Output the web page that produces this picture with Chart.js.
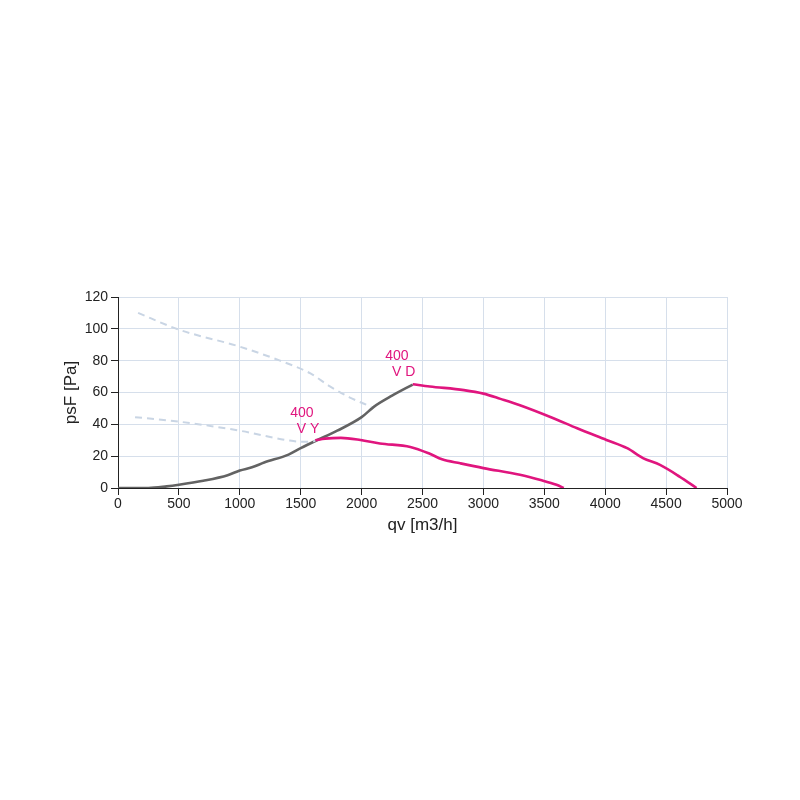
<!DOCTYPE html>
<html>
<head>
<meta charset="utf-8">
<script src="https://cdn.jsdelivr.net/npm/chart.js@4/dist/chart.umd.min.js"></script>
<style>
  html, body { margin: 0; padding: 0; background: #fff; }
  #wrap { width: 800px; height: 800px; }
</style>
</head>
<body>
<div id="wrap"><canvas id="fanChart" width="800" height="800"></canvas></div>
<script>
// curve points: [qv m3/h, psF Pa]
const systemCurve = [
  [0, 0], [250, 0], [400, 1], [500, 2], [700, 4.5], [900, 8], [1000, 11],
  [1100, 13], [1200, 16], [1400, 21], [1500, 25], [1620, 29.5], [1800, 36],
  [2000, 44.5], [2100, 51], [2250, 58], [2420, 65]
];
const vyCurve = [
  [1620, 30], [1700, 31], [1830, 31.5], [1990, 30.2], [2150, 28], [2400, 25.8],
  [2560, 21.5], [2660, 18], [2810, 15.5], [3000, 12.5], [3300, 8.3],
  [3470, 5], [3600, 2], [3660, 0]
];
const vdCurve = [
  [2420, 65.2], [2560, 63.8], [2840, 61.5], [3000, 59.3], [3140, 56],
  [3300, 52], [3570, 44], [3770, 37.5], [4010, 30.2], [4180, 25],
  [4310, 18.8], [4450, 14.5], [4610, 7.2], [4750, 0]
];
const vyDashed = [
  [140, 44.5], [500, 41.7], [1000, 36], [1410, 29.8], [1520, 29], [1620, 29.5]
];
const vdDashed = [
  [165, 110], [500, 99.5], [1000, 88.8], [1330, 80], [1580, 72], [1740, 63.8],
  [1900, 57], [2080, 51]
];

const curveLabels = ["400", "V Y", "400", "V D"];
const curveLabelPos = [[1510, 47], [1560, 37], [2290, 83], [2345, 73]];

const xTicks = { min: 0, max: 5000, step: 500 };
const yTicks = { min: 0, max: 120, step: 20 };

const PINK = "#e0157e";
const FONT = "'Liberation Sans', Arial, sans-serif";
const toXY = (arr) => arr.map((p) => ({ x: p[0], y: p[1] }));

const labelPlugin = {
  id: "curveLabels",
  afterDatasetsDraw: (chart) => {
    const ctx = chart.ctx;
    const xs = chart.scales.x;
    const ys = chart.scales.y;
    ctx.save();
    ctx.fillStyle = PINK;
    ctx.font = "14px " + FONT;
    ctx.textAlign = "center";
    ctx.textBaseline = "middle";
    curveLabels.forEach((txt, i) => {
      const p = curveLabelPos[i];
      ctx.fillText(txt, xs.getPixelForValue(p[0]), ys.getPixelForValue(p[1]));
    });
    ctx.restore();
  },
};

const lineDs = (data, color, width, dash) => ({
  data: toXY(data),
  showLine: true,
  borderColor: color,
  backgroundColor: color,
  borderWidth: width,
  borderDash: dash || [],
  pointRadius: 0,
  cubicInterpolationMode: "monotone",
  fill: false,
});

new Chart(document.getElementById("fanChart").getContext("2d"), {
  type: "scatter",
  data: {
    datasets: [
      lineDs(vdDashed, "#c9d5e4", 2, [7, 5]),
      lineDs(vyDashed, "#c9d5e4", 2, [7, 5]),
      lineDs(vyCurve, PINK, 2.6),
      lineDs(vdCurve, PINK, 2.6),
      lineDs(systemCurve, "#636363", 2.6),
    ],
  },
  options: {
    responsive: false,
    animation: false,
    layout: { padding: { left: 57, right: 73, top: 297, bottom: 260 } },
    plugins: { legend: { display: false }, tooltip: { enabled: false } },
    scales: {
      x: {
        type: "linear",
        min: xTicks.min,
        max: xTicks.max,
        ticks: {
          stepSize: xTicks.step,
          color: "#222",
          font: { size: 14, family: FONT },
          padding: 1,
          maxRotation: 0,
          callback: (v) => String(v),
        },
        grid: { color: "#d6dfeb", tickColor: "#222", tickLength: 7 },
        border: { color: "#222", width: 1 },
        title: {
          display: true,
          text: "qv [m3/h]",
          color: "#222",
          font: { size: 17, family: FONT },
          padding: { top: 0, bottom: 4 },
        },
        afterFit: (s) => { s.height = 52; },
      },
      y: {
        min: yTicks.min,
        max: yTicks.max,
        ticks: {
          stepSize: yTicks.step,
          color: "#222",
          font: { size: 14, family: FONT },
          padding: 3,
          callback: (v) => String(v),
        },
        grid: { color: "#d6dfeb", tickColor: "#222", tickLength: 7 },
        border: { color: "#222", width: 1 },
        title: {
          display: true,
          text: "psF [Pa]",
          color: "#222",
          font: { size: 17, family: FONT },
          padding: { top: 4, bottom: 0 },
        },
        afterFit: (s) => { s.width = 61; },
      },
    },
  },
  plugins: [labelPlugin],
});
</script>
</body>
</html>
